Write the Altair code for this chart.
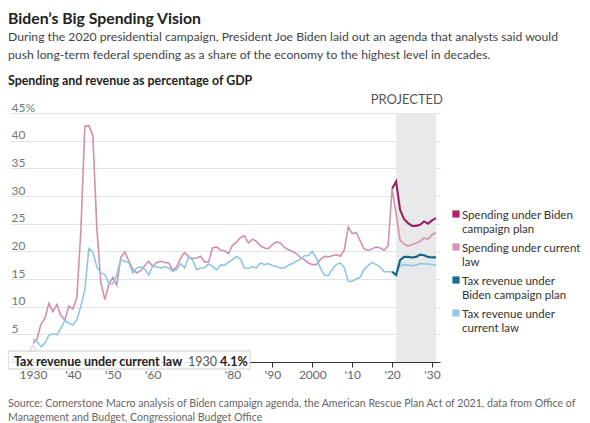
import altair as alt
import pandas as pd

# ---------------- data ----------------
years = list(range(1930, 2032))

spend_current = [
    3.4, 4.2, 6.8, 7.9, 10.6, 9.1, 10.4, 8.4, 7.6, 10.1,        # 1930s
    9.6, 11.7, 23.8, 42.6, 42.7, 41.0, 24.2, 14.4, 11.3, 14.0,  # 1940s
    15.3, 13.9, 18.9, 19.9, 18.3, 16.8, 16.1, 16.5, 17.4, 18.2, # 1950s
    17.3, 18.0, 18.2, 18.0, 17.9, 16.6, 17.2, 18.8, 19.8, 19.0, # 1960s
    18.7, 18.8, 19.1, 18.1, 18.1, 20.6, 20.8, 20.2, 20.1, 19.6, # 1970s
    21.1, 21.6, 22.5, 22.8, 21.5, 22.2, 21.8, 21.0, 20.6, 20.5, # 1980s
    21.2, 21.7, 21.5, 20.7, 20.3, 20.0, 19.6, 18.9, 18.5, 17.9, # 1990s
    17.6, 17.6, 18.5, 19.1, 19.0, 19.2, 19.4, 19.1, 20.2, 24.4, # 2000s
    23.2, 23.4, 21.9, 20.4, 20.2, 20.4, 20.8, 20.6, 20.2, 21.0, # 2010s
    31.3, 26.8, 22.0, 21.3, 21.0, 21.2, 21.5, 21.8, 22.4, 22.2, # 2020s
    23.0, 23.4,
]

tax_current = [
    4.1, 3.7, 2.8, 3.4, 4.8, 5.1, 4.9, 6.1, 7.5, 7.0,
    6.7, 7.6, 10.1, 13.0, 20.5, 19.9, 17.2, 16.1, 15.8, 14.2,
    14.1, 15.8, 18.5, 18.2, 18.0, 16.1, 17.0, 17.2, 16.8, 15.7,
    17.3, 17.2, 17.0, 17.2, 17.0, 16.4, 16.7, 17.8, 17.0, 19.0,
    18.4, 16.7, 17.0, 17.0, 17.7, 17.3, 16.6, 17.5, 17.5, 18.0,
    18.5, 19.1, 18.6, 17.0, 16.9, 17.2, 17.0, 17.9, 17.6, 17.8,
    17.4, 17.3, 17.0, 17.0, 17.5, 17.8, 18.2, 18.6, 19.2, 19.2,
    20.0, 18.8, 17.0, 15.7, 15.6, 16.7, 17.6, 17.9, 17.1, 14.6,
    14.6, 15.0, 15.3, 16.8, 17.4, 18.0, 17.6, 17.2, 16.3, 16.3,
    16.3, 15.9, 17.4, 17.6, 17.5, 17.4, 17.5, 17.8, 17.7, 17.7,
    17.6, 17.5,
]

proj_years = list(range(2020, 2032))
spend_biden = [31.3, 32.6, 27.5, 25.8, 25.1, 24.6, 24.6, 24.8, 25.4, 25.0, 25.6, 26.0]
tax_biden = [16.3, 15.7, 18.4, 19.0, 19.0, 18.9, 19.0, 19.4, 19.3, 19.0, 18.9, 18.9]

series_names = [
    "Spending under Biden campaign plan",
    "Spending under current law",
    "Tax revenue under Biden campaign plan",
    "Tax revenue under current law",
]
series_colors = ["#9a2160", "#d48fae", "#16638c", "#8fc6e6"]
legend_colors = ["#b3256d", "#d993b3", "#1a6e9c", "#94c9ea"]
legend_lines = [
    ["Spending under Biden", "campaign plan"],
    ["Spending under current", "law"],
    ["Tax revenue under", "Biden campaign plan"],
    ["Tax revenue under", "current law"],
]

x_ticks = list(range(1930, 2040, 10))
y_ticks = list(range(0, 50, 5))
projection = {"start": [2021], "end": [2031]}

title_text = "Biden’s Big Spending Vision"
subtitle_lines = [
    "During the 2020 presidential campaign, President Joe Biden laid out an agenda that analysts said would",
    "push long-term federal spending as a share of the economy to the highest level in decades.",
]
chart_header = "Spending and revenue as percentage of GDP"
source_lines = [
    "Source: Cornerstone Macro analysis of Biden campaign agenda, the American Rescue Plan Act of 2021, data from Office of",
    "Management and Budget, Congressional Budget Office",
]

FONT = "Lato"

# ---------------- tables ----------------
current_df = pd.concat([
    pd.DataFrame({"year": years, "value": spend_current, "series": series_names[1]}),
    pd.DataFrame({"year": years, "value": tax_current, "series": series_names[3]}),
])
biden_df = pd.concat([
    pd.DataFrame({"year": proj_years, "value": spend_biden, "series": series_names[0]}),
    pd.DataFrame({"year": proj_years, "value": tax_biden, "series": series_names[2]}),
])
band_df = pd.DataFrame(projection)
one = pd.DataFrame({"k": [0]})

x_scale = alt.Scale(domain=[1924.24, 2032], nice=False, zero=False)
y_scale = alt.Scale(domain=[0, 45], nice=False)
color_scale = alt.Scale(domain=series_names, range=series_colors)

x_axis = alt.Axis(
    values=x_ticks,
    labelExpr="datum.value == 1930 || datum.value == 2000 ? toString(datum.value) : "
              "(datum.value == 1970 ? '' : \"'\" + substring(toString(datum.value), 2))",
    title=None, grid=False, domainColor="#333333", tickColor="#333333", tickSize=5,
    labelColor="#666666", labelFontSize=12, labelFont=FONT, labelPadding=2,
    labelOverlap=False, labelFlush=False,
)
y_axis = alt.Axis(
    values=y_ticks, labelExpr="datum.value == 45 ? '45%' : datum.label",
    title=None, grid=True, gridColor="#e3e3e3", domain=False, ticks=False, tickSize=0,
    labelAlign="left", labelBaseline="alphabetic", labelPadding=-1, labelOffset=-2,
    labelColor="#777777", labelFontSize=12, labelFont=FONT, labelOverlap=False,
)

band = alt.Chart(band_df).mark_rect(color="#e6e7e9", opacity=0.9).encode(
    x=alt.X("start:Q", scale=x_scale, axis=x_axis),
    x2="end:Q",
    y=alt.Y(datum=45, scale=y_scale, axis=y_axis),
    y2=alt.Y2(datum=0),
)

current_lines = alt.Chart(current_df).mark_line(strokeWidth=1.6).encode(
    x=alt.X("year:Q", scale=x_scale, axis=x_axis),
    y=alt.Y("value:Q", scale=y_scale, axis=y_axis),
    color=alt.Color("series:N", scale=color_scale, legend=None),
)
biden_lines = alt.Chart(biden_df).mark_line(strokeWidth=2.1).encode(
    x=alt.X("year:Q", scale=x_scale, axis=x_axis),
    y=alt.Y("value:Q", scale=y_scale, axis=y_axis),
    color=alt.Color("series:N", scale=color_scale, legend=None),
)

projected = alt.Chart(one).mark_text(
    align="right", baseline="alphabetic", font=FONT, fontSize=13, color="#555555", dx=3, dy=-9
).encode(x=alt.X(datum=2032, scale=x_scale, axis=x_axis),
         y=alt.Y(datum=45, scale=y_scale, axis=y_axis),
         text=alt.value("PROJECTED"))

layers = [band, current_lines, biden_lines, projected]

# header texts (pixel positions relative to the plot area)
def txt(s, x, y, size, weight="normal", color="#333333", align="left"):
    return alt.Chart(one).mark_text(
        align=align, baseline="alphabetic", font=FONT, fontSize=size, fontWeight=weight, color=color
    ).encode(x=alt.value(x), y=alt.value(y), text=alt.value(s))

layers.append(txt(title_text, -2, -89, 15.8, "bold", "#222222"))
layers.append(txt(subtitle_lines[0], -2, -72, 12.2, color="#444444"))
layers.append(txt(subtitle_lines[1], -2, -54, 12.2, color="#444444"))
layers.append(txt(chart_header, -2, -28, 12.4, "bold", "#222222"))
layers.append(txt(source_lines[0], -2, 294, 10.6, color="#666666"))
layers.append(txt(source_lines[1], -2, 308, 10.6, color="#666666"))

# legend (manual, multi-line)
for i, (lines, col) in enumerate(zip(legend_lines, legend_colors)):
    cy = 101 + i * 33
    layers.append(alt.Chart(one).mark_square(size=52, opacity=1, color=col).encode(
        x=alt.value(446), y=alt.value(cy)))
    layers.append(txt(lines[0], 452, cy + 4.5, 11.5, color="#333333"))
    layers.append(txt(lines[1], 452, cy + 18.5, 11.5, color="#333333"))

# hover tooltip captured in the screenshot (first point of tax revenue under current law)
tip_name = series_names[3]
tip_year = str(years[0])
tip_val = f"{tax_current[0]}%"
layers.append(alt.Chart(one).mark_rect(fill="white", fillOpacity=0.88, stroke="#cccccc", strokeWidth=1).encode(
    x=alt.value(-2), x2=alt.value(240), y=alt.value(238), y2=alt.value(256)))
layers.append(alt.Chart(one).mark_point(shape="triangle-up", size=50, filled=True, fill="white", stroke="#cccccc",
                                         strokeWidth=1, opacity=1).encode(
    x=alt.X(datum=years[0], scale=x_scale, axis=x_axis), y=alt.value(235)))
layers.append(txt(tip_name, 4, 253, 12.5, "bold", "#222222"))
layers.append(txt(tip_year, 178, 253, 12.5, color="#555555"))
layers.append(txt(tip_val, 210, 253, 12.5, "bold", "#222222"))

chart = alt.layer(*layers).properties(
    width=430, height=249,
    padding={"left": 2, "top": 105, "right": 142, "bottom": 61},
    autosize=alt.AutoSizeParams(type="none"),
    background="white",
).configure_view(stroke=None)

chart.save("out.html", embed_options={"renderer": "svg", "actions": False})
